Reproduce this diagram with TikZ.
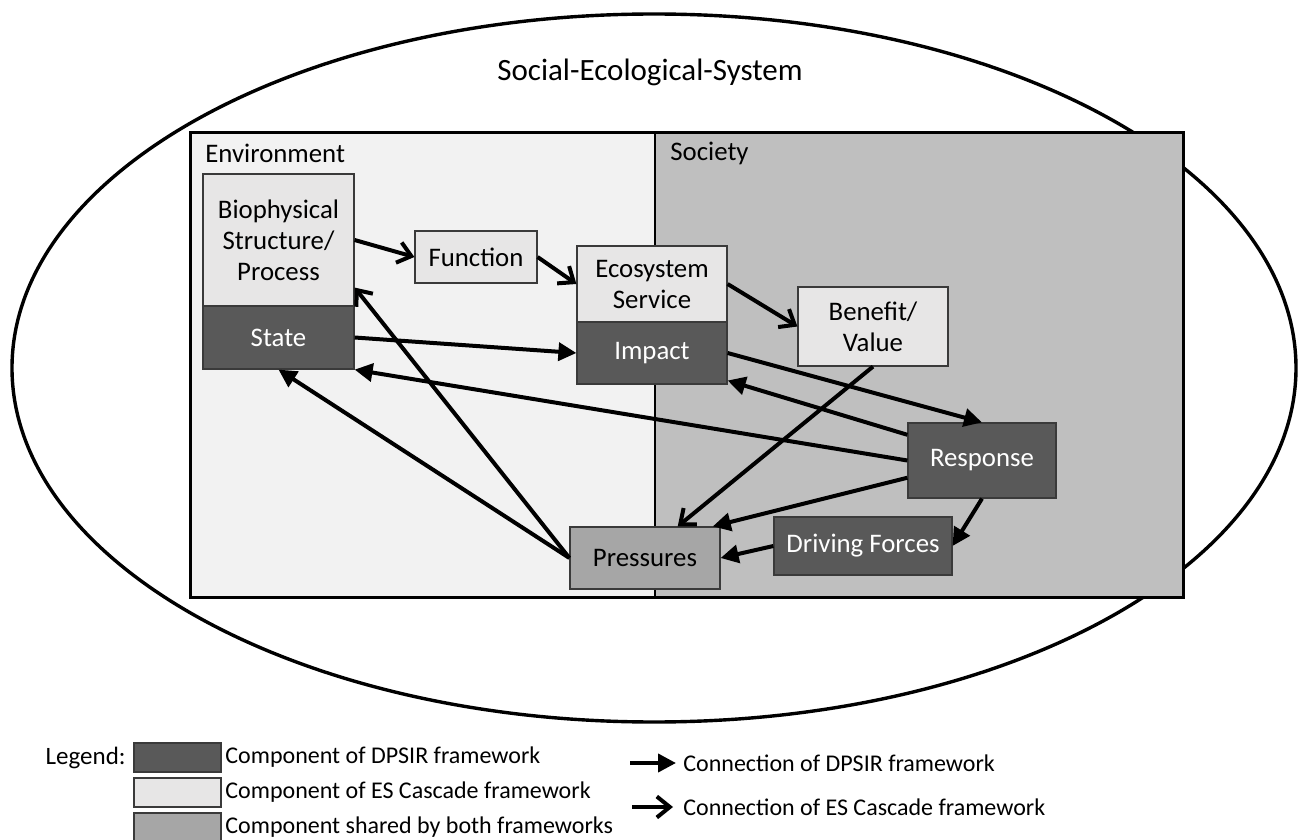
\documentclass[tikz,border=0pt]{standalone}
\usepackage{fontspec}
\setmainfont{Carlito}
\usepackage{tikz}
\usetikzlibrary{arrows.meta}
\definecolor{envcol}{HTML}{F2F2F2}
\definecolor{soccol}{HTML}{BFBFBF}
\definecolor{escol}{HTML}{E7E6E6}
\definecolor{dpsircol}{HTML}{595959}
\definecolor{sharedcol}{HTML}{A6A6A6}
\definecolor{edgecol}{HTML}{3A3A3A}

\begin{document}
\begin{tikzpicture}[x=0.5pt, y=-0.5pt,
  every node/.style={font=\fontsize{13.4}{15.5}\selectfont},
  comp/.style={draw=edgecol, line width=0.6pt, align=center, inner sep=0pt},
  escomp/.style={comp, fill=escol},
  dpcomp/.style={comp, fill=dpsircol, text=white},
  shcomp/.style={comp, fill=sharedcol},
  dpsir/.style={line width=2pt, -{Triangle[length=9pt,width=9pt]}},
  cascade/.style={line width=2pt, -{Straight Barb[length=6.5pt,width=10.5pt]}},
  legbox/.style={minimum width=43.5pt, minimum height=14.5pt},
  legtxt/.style={font=\fontsize{12}{14}\selectfont, anchor=west, inner sep=0pt}]
  \useasboundingbox (0,0) rectangle (1298,840);
  % social-ecological system
  \draw[line width=1.7pt] (654,368) ellipse [x radius=321pt, y radius=177pt];
  \node[font=\fontsize{15.5}{18}\selectfont] (ses) at (650,72) {Social-Ecological-System};
  % environment / society
  \fill[envcol] (190,133) rectangle (655,597);
  \fill[soccol] (655,133) rectangle (1183,597);
  \draw[line width=1pt] (655,133) -- (655,597);
  \draw[line width=1.5pt] (190,133) rectangle (1183,597);
  \node[anchor=west, inner sep=0pt] (env) at (205,153) {Environment};
  \node[anchor=west, inner sep=0pt] (soc) at (670,153) {Society};
  % components
  \node[escomp, minimum width=75.5pt, minimum height=66pt] (bio) at (278.5,240) {Biophysical\\Structure/\\Process};
  \node[dpcomp, minimum width=75.5pt, minimum height=31.5pt] (state) at (278.5,337.5) {State};
  \node[escomp, minimum width=61pt, minimum height=26pt] (func) at (476,257) {Function};
  \node[escomp, minimum width=75pt, minimum height=38pt] (ess) at (652,284) {Ecosystem\\Service};
  \node[dpcomp, minimum width=75pt, minimum height=31pt] (impact) at (652,353) {Impact};
  \node[escomp, minimum width=75pt, minimum height=39.5pt] (benefit) at (873,326.5) {Benefit/\\Value};
  \node[dpcomp, minimum width=74pt, minimum height=37.5pt] (response) at (982,460.5) {Response};
  \node[dpcomp, minimum width=89pt, minimum height=29pt] (driving) at (863,546) {Driving Forces};
  \node[shcomp, minimum width=75pt, minimum height=31pt] (pressures) at (645,558) {Pressures};
  % ES cascade connections
  \draw[cascade] (bio.east) -- (func.west);
  \draw[cascade] (func.east) -- (ess.west);
  \draw[cascade] (ess.east) -- (benefit.west);
  \draw[cascade] (benefit.south) -- (pressures.44);
  \draw[cascade] (pressures.west) -- (bio.-32);
  % DPSIR connections
  \draw[dpsir] (state.east) -- (impact.west);
  \draw[dpsir] (impact.east) -- (response.north);
  \draw[dpsir] (response.161) -- (impact.-20);
  \draw[dpsir] (response.west) -- (state.south east);
  \draw[dpsir] (pressures.west) -- (state.south);
  \draw[dpsir] (response.193) -- (pressures.25);
  \draw[dpsir] (response.south) -- (driving.east);
  \draw[dpsir] (driving.west) -- (pressures.east);
  % legend
  \node[legtxt, anchor=east, font=\fontsize{12.5}{14}\selectfont] (legend) at (126,757.5) {Legend:};
  \node[dpcomp, legbox] (legdp) at (177.5,757.5) {};
  \node[escomp, legbox] (leges) at (177.5,792.5) {};
  \node[shcomp, legbox] (legsh) at (177.5,827.5) {};
  \node[legtxt] (legdptxt) at (225,757.5) {Component of DPSIR framework};
  \node[legtxt] (legestxt) at (225,792.5) {Component of ES Cascade framework};
  \node[legtxt] (legshtxt) at (225,827.5) {Component shared by both frameworks};
  \coordinate (dparr) at (630,763);
  \coordinate (esarr) at (632,807);
  \node[legtxt] (dpconn) at (683,763) {Connection of DPSIR framework};
  \node[legtxt] (esconn) at (683,807) {Connection of ES Cascade framework};
  \draw[dpsir, shorten >=3.5pt] (dparr) -- (dpconn.west);
  \draw[cascade, shorten >=5pt] (esarr) -- (esconn.west);
\end{tikzpicture}
\end{document}
